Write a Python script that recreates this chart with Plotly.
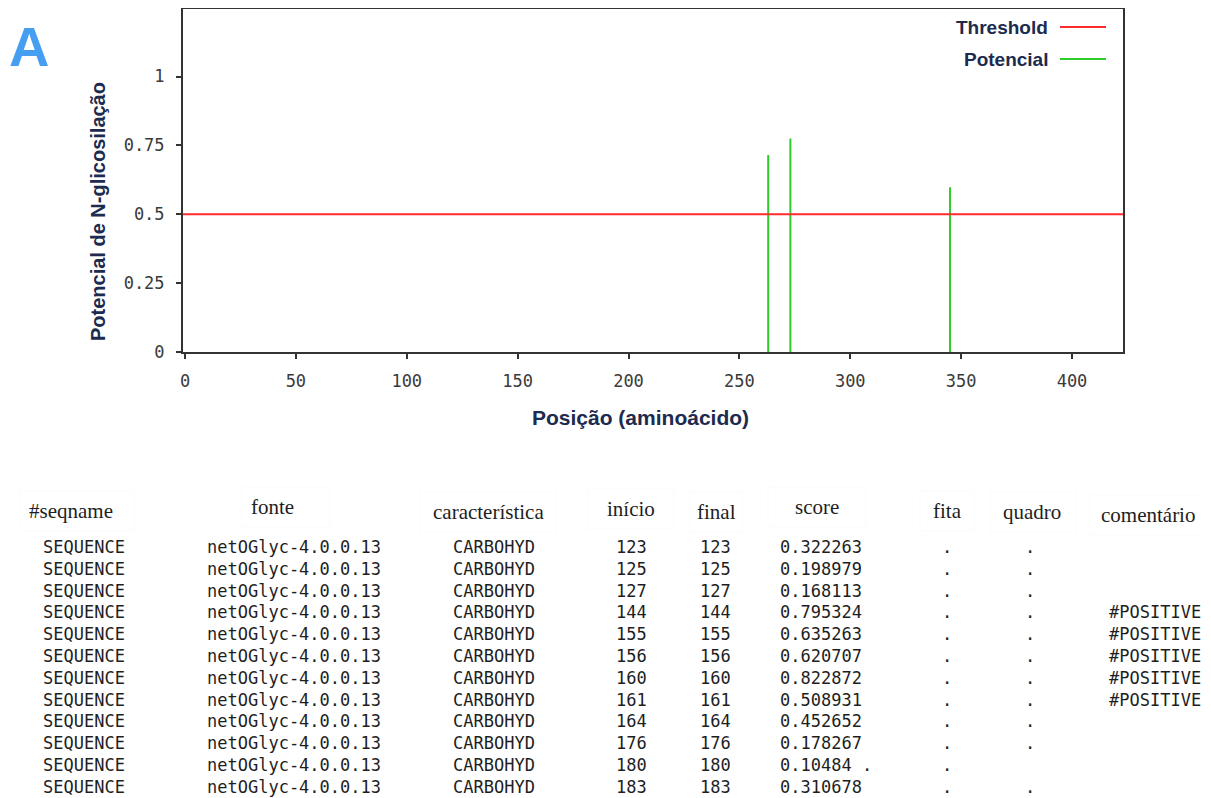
import plotly.graph_objects as go

# ---------------- chart data ----------------
positions = [263, 273, 345]
potentials = [0.715, 0.775, 0.598]
threshold = 0.5
x_ticks = [0, 50, 100, 150, 200, 250, 300, 350, 400]
y_ticks = [0, 0.25, 0.5, 0.75, 1]
y_tick_labels = ["0", "0.25", "0.5", "0.75", "1"]
legend_names = ["Threshold", "Potencial"]

# ---------------- table data ----------------
headers = ["#seqname", "fonte", "característica", "início", "final",
           "score", "fita", "quadro", "comentário"]
seqnames = ["SEQUENCE"] * 12
sources = ["netOGlyc-4.0.0.13"] * 12
features = ["CARBOHYD"] * 12
starts = [123, 125, 127, 144, 155, 156, 160, 161, 164, 176, 180, 183]
ends = [123, 125, 127, 144, 155, 156, 160, 161, 164, 176, 180, 183]
scores = ["0.322263", "0.198979", "0.168113", "0.795324", "0.635263",
          "0.620707", "0.822872", "0.508931", "0.452652", "0.178267",
          "0.10484 .", "0.310678"]
strands = ["."] * 12
frames = [".", ".", ".", ".", ".", ".", ".", ".", ".", ".", "", "."]
comments = ["", "", "", "#POSITIVE", "#POSITIVE", "#POSITIVE", "#POSITIVE",
            "#POSITIVE", "", "", "", ""]

RED = "#ff2a2a"
GREEN = "#2ccc2c"
NAVY = "#1c2b4e"
TXT = "#1e1e1e"

# page body margin offset compensation
OFF = 8
FW, FH = 1211 - OFF, 798 - OFF


def px(x):
    return (x - OFF) / FW


def py(y):
    return 1 - (y - OFF) / FH


fig = go.Figure()

# potential sticks built from data
xs, ys = [], []
for p, v in zip(positions, potentials):
    xs += [p, p, None]
    ys += [0, v, None]
fig.add_trace(go.Scatter(x=xs, y=ys, mode="lines", name=legend_names[1],
                         line=dict(color=GREEN, width=2), showlegend=False,
                         hoverinfo="skip"))

# threshold line
fig.add_shape(type="line", xref="x domain", yref="y", x0=0, x1=1,
              y0=threshold, y1=threshold, line=dict(color=RED, width=2))

tick_font = dict(family="DejaVu Sans Mono", size=17, color="#3a3a3a")
axis_common = dict(showline=True, linecolor="#333333", linewidth=2, mirror=True,
                   ticks="outside", ticklen=5, tickcolor="#333333", tickwidth=1.5,
                   showgrid=False, zeroline=False, tickfont=tick_font,
                   automargin=False, fixedrange=True)

fig.update_xaxes(range=[-0.9, 423], tickvals=x_ticks,
                 ticktext=[str(t) for t in x_ticks],
                 domain=[px(183), px(1123)], ticklabelstandoff=8, **axis_common)
fig.update_yaxes(range=[0, 1.245], tickvals=y_ticks, ticktext=y_tick_labels,
                 domain=[py(352), py(9)], ticklabelstandoff=8, **axis_common)

annotations = []
bold = dict(family="Liberation Sans, Arial", size=20, color=NAVY, weight="bold")

# axis titles
annotations.append(dict(text="Posição (aminoácido)", x=px(640), y=py(417),
                        xref="paper", yref="paper", showarrow=False,
                        font=dict(bold, size=21), xanchor="center", yanchor="middle"))
annotations.append(dict(text="Potencial de N-glicosilação", x=px(98), y=py(212),
                        xref="paper", yref="paper", showarrow=False, textangle=-90,
                        font=bold, xanchor="center", yanchor="middle"))

# panel letter
annotations.append(dict(text="A", x=px(29), y=py(46), xref="paper", yref="paper",
                        showarrow=False, xanchor="center", yanchor="middle",
                        font=dict(family="Liberation Sans, Arial", size=56,
                                  color="#469ef2", weight="bold")))

# custom legend (text left, line right)
legend_colors = [RED, GREEN]
legend_y = [27, 59]
for name, col, ly in zip(legend_names, legend_colors, legend_y):
    annotations.append(dict(text=name, x=px(1050), y=py(ly), xref="paper",
                            yref="paper", showarrow=False, xanchor="right",
                            yanchor="middle", font=dict(bold, size=19)))
    fig.add_shape(type="line", xref="paper", yref="paper", x0=px(1060),
                  x1=px(1106), y0=py(ly), y1=py(ly), line=dict(color=col, width=2))

# table header
head_x = [71, 272, 488, 631, 716, 817, 947, 1032, 1148]
head_y = [511, 507, 512, 509, 512, 507, 511, 512, 515]
head_box = [(20, 134), (242, 330), (420, 556), (588, 674), (690, 742),
            (768, 866), (920, 974), (990, 1076), (1090, 1208)]
serif = dict(family="Liberation Serif, Times New Roman", size=21, color=TXT)
for h, hx, hy, (b0, b1) in zip(headers, head_x, head_y, head_box):
    annotations.append(dict(text=h, x=px(hx), y=py(hy), xref="paper", yref="paper",
                            showarrow=False, xanchor="center", yanchor="middle",
                            font=serif))
    fig.add_shape(type="rect", xref="paper", yref="paper", x0=px(b0), x1=px(b1),
                  y0=py(hy + 20), y1=py(hy - 20),
                  line=dict(color="#fbfbfb", width=1), layer="below")

# table rows
mono = dict(family="DejaVu Sans Mono", size=17, color=TXT)
columns = [seqnames, sources, features, starts, ends, scores, strands, frames, comments]
col_x = [41, 205, 451, 614, 698, 778, 947, 1030, 1107]
col_anchor = ["left", "left", "left", "left", "left", "left", "center", "center", "left"]
row_y0, row_dy = 547, 21.8
for ci, (col, cx, anc) in enumerate(zip(columns, col_x, col_anchor)):
    for ri, val in enumerate(col):
        s = str(val)
        if not s:
            continue
        annotations.append(dict(text=s, x=px(cx), y=py(row_y0 + ri * row_dy),
                                xref="paper", yref="paper", showarrow=False,
                                xanchor=anc, yanchor="middle", font=mono))

fig.update_layout(width=FW, height=FH, margin=dict(l=0, r=0, t=0, b=0),
                  plot_bgcolor="white", paper_bgcolor="white",
                  showlegend=False, annotations=annotations)

fig.write_html("out.html")
